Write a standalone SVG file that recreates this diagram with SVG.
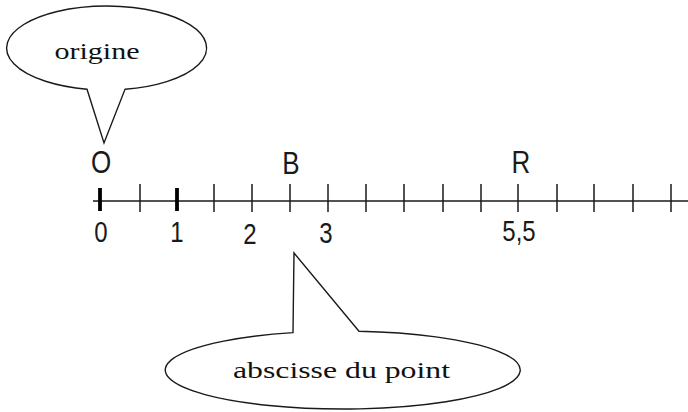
<svg xmlns="http://www.w3.org/2000/svg" width="688" height="412" viewBox="0 0 688 412">
<style>
.bubble{fill:#fff;stroke:#1a1a1a;stroke-width:1.4;stroke-linejoin:miter}
.axis{stroke:#1a1a1a;stroke-width:1.6;fill:none}
.tick{stroke:#1a1a1a;stroke-width:1.5}
.thick{stroke:#000;stroke-width:3.8}
.lbl{font-family:"Liberation Sans",Arial,sans-serif;font-size:26px;fill:#1a1a1a;text-anchor:middle}
.num{font-family:"Liberation Sans",Arial,sans-serif;font-size:24px;fill:#1a1a1a;text-anchor:middle}
.serif{font-family:"Liberation Serif","Times New Roman",serif;font-size:24px;fill:#111}
</style>
<rect width="688" height="412" fill="#fff"/>
<g id="connectors">
<line class="axis" x1="93" y1="201" x2="688" y2="201"/>
<g id="ticks">
<line class="thick" x1="100" y1="188" x2="100" y2="211"/>
<line class="tick" x1="140" y1="184" x2="140" y2="212"/>
<line class="thick" x1="177" y1="188" x2="177" y2="211"/>
<line class="tick" x1="214" y1="184" x2="214" y2="212"/>
<line class="tick" x1="252" y1="184" x2="252" y2="212"/>
<line class="tick" x1="290" y1="184" x2="290" y2="212"/>
<line class="tick" x1="328" y1="184" x2="328" y2="212"/>
<line class="tick" x1="366" y1="184" x2="366" y2="212"/>
<line class="tick" x1="404" y1="184" x2="404" y2="212"/>
<line class="tick" x1="443" y1="184" x2="443" y2="212"/>
<line class="tick" x1="481" y1="184" x2="481" y2="212"/>
<line class="tick" x1="518" y1="184" x2="518" y2="212"/>
<line class="tick" x1="557" y1="184" x2="557" y2="212"/>
<line class="tick" x1="594" y1="184" x2="594" y2="212"/>
<line class="tick" x1="633" y1="184" x2="633" y2="212"/>
<line class="tick" x1="671" y1="184" x2="671" y2="212"/>
</g>
</g>
<g id="origine-callout">
<path class="bubble" d="M125,89.3 A100,42 0 1 0 87,89.2 L104,143 Z"/>
<text class="serif" x="97" y="59" text-anchor="middle" textLength="85" lengthAdjust="spacingAndGlyphs">origine</text>
</g>
<g id="abscisse-callout">
<path class="bubble" d="M293,332.6 L294,253 L359,331.2 A177.5,39 0 1 1 293,332.6 Z"/>
<text class="serif" x="233" y="378" textLength="217" lengthAdjust="spacingAndGlyphs">abscisse du point</text>
</g>
<g id="point-O"><text class="lbl" transform="translate(101,173) scale(1,1.2)">O</text></g>
<g id="point-B"><text class="lbl" transform="translate(291,174) scale(1,1.2)">B</text></g>
<g id="point-R"><text class="lbl" transform="translate(521,173) scale(1,1.2)">R</text></g>
<g id="labels">
<text class="num" transform="translate(101,242) scale(1,1.2)">0</text>
<text class="num" transform="translate(177,242) scale(1,1.2)">1</text>
<text class="num" transform="translate(250,244) scale(1,1.2)">2</text>
<text class="num" transform="translate(326,243) scale(1,1.2)">3</text>
<text class="num" transform="translate(519,241) scale(1,1.2)">5,5</text>
</g>
</svg>
